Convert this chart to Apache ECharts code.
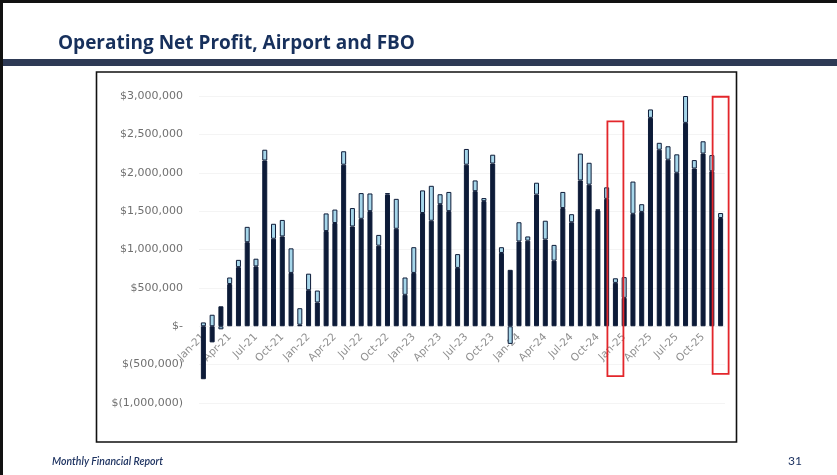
<!DOCTYPE html>
<html>
<head>
<meta charset="utf-8">
<script src="https://cdn.jsdelivr.net/npm/echarts@6/dist/echarts.min.js"></script>
<style>
html,body{margin:0;padding:0;background:#fff;}
#c{width:837px;height:475px;}
</style>
</head>
<body>
<div id="c"></div>
<script>
const months = ['Jan-21','Feb-21','Mar-21','Apr-21','May-21','Jun-21','Jul-21','Aug-21','Sep-21','Oct-21','Nov-21','Dec-21',
'Jan-22','Feb-22','Mar-22','Apr-22','May-22','Jun-22','Jul-22','Aug-22','Sep-22','Oct-22','Nov-22','Dec-22',
'Jan-23','Feb-23','Mar-23','Apr-23','May-23','Jun-23','Jul-23','Aug-23','Sep-23','Oct-23','Nov-23','Dec-23',
'Jan-24','Feb-24','Mar-24','Apr-24','May-24','Jun-24','Jul-24','Aug-24','Sep-24','Oct-24','Nov-24','Dec-24',
'Jan-25','Feb-25','Mar-25','Apr-25','May-25','Jun-25','Jul-25','Aug-25','Sep-25','Oct-25','Nov-25','Dec-25'];

const airport = [-690000,-210000,260000,550000,770000,1095000,780000,2160000,1140000,1170000,695000,20000,
470000,310000,1240000,1345000,2105000,1300000,1400000,1500000,1050000,1715000,1270000,410000,
695000,1475000,1375000,1590000,1500000,760000,2105000,1760000,1630000,2120000,955000,735000,
1105000,1115000,1715000,1130000,855000,1540000,1355000,1900000,1845000,1510000,1660000,565000,
370000,1465000,1490000,2715000,2300000,2170000,2000000,2650000,2055000,2250000,2020000,1410000];

const fbo = [50000,150000,-40000,85000,95000,200000,100000,140000,195000,215000,320000,215000,
215000,155000,230000,175000,175000,240000,335000,230000,140000,20000,390000,225000,
335000,295000,455000,130000,250000,180000,205000,140000,40000,115000,75000,-230000,
250000,55000,155000,245000,205000,210000,105000,350000,285000,10000,150000,60000,
270000,420000,100000,110000,90000,175000,240000,350000,110000,160000,210000,65000];

const yTicks = [-1000000,-500000,0,500000,1000000,1500000,2000000,2500000,3000000];

// highlighted months (red annotation boxes) and their value extents
const highlightMonths = ['Dec-24','Dec-25'];
const highlightLow = [-650000,-620000];
const highlightHigh = [2670000,2990000];

const NAVY = '#0d1b38';
const LIGHT = '#a6d6ea';

function money(v){
  if (v === 0) return '$-';
  const s = Math.abs(v).toLocaleString('en-US');
  return v < 0 ? '$(' + s + ')' : '$' + s;
}

const chart = echarts.init(document.getElementById('c'));
const option = {
  animation: false,
  backgroundColor: '#ffffff',
  title: {
    text: 'Operating Net Profit, Airport and FBO',
    left: 53, top: 29,
    textStyle: {fontFamily: 'Open Sans', fontWeight: 700, fontSize: 19, color: '#17305c'}
  },
  grid: {left: 199, right: 112, top: 96, bottom: 72, containLabel: false},
  xAxis: {
    type: 'category',
    data: months,
    axisLine: {onZero: false, show: false},
    axisTick: {show: false},
    axisLabel: {interval: 2, rotate: 45, margin: 9, color: '#8f8f8f', fontSize: 10.5, fontFamily: 'DejaVu Sans'},
    splitLine: {show: false}
  },
  yAxis: {
    type: 'value',
    min: yTicks[0], max: yTicks[yTicks.length-1], interval: 500000,
    axisLine: {show: false},
    axisTick: {show: false},
    axisLabel: {formatter: money, color: '#707070', fontSize: 11, fontFamily: 'DejaVu Sans', margin: 16},
    splitLine: {show: true, lineStyle: {color: '#f4f4f4', width: 1}}
  },
  series: [
    {name: 'Airport', type: 'bar', stack: 'net', barWidth: 5, data: airport,
     itemStyle: {color: NAVY, borderColor: NAVY, borderWidth: 1}},
    {name: 'FBO', type: 'bar', stack: 'net', barWidth: 5, data: fbo,
     itemStyle: {color: LIGHT, borderColor: NAVY, borderWidth: 1}}
  ],
  graphic: []
};
chart.setOption(option);

// move category labels up to the zero line (as in the source), using the value scale
const zeroY = chart.convertToPixel({yAxisIndex: 0}, 0);
const minY = chart.convertToPixel({yAxisIndex: 0}, yTicks[0]);

const g = [
  // slide outer edges
  {type: 'rect', shape: {x: 0, y: 0, width: 837, height: 3}, style: {fill: '#111'}, silent: true},
  {type: 'rect', shape: {x: 0, y: 0, width: 3, height: 475}, style: {fill: '#111'}, silent: true},
  // header band
  {type: 'rect', shape: {x: 3, y: 59, width: 834, height: 7}, style: {fill: '#2e3a55'}, silent: true},
  // chart frame
  {type: 'rect', shape: {x: 96.5, y: 72, width: 640, height: 370}, style: {fill: 'none', stroke: '#111', lineWidth: 1.6}, silent: true},
  // footer
  {type: 'text', left: 52, top: 456, style: {text: 'Monthly Financial Report', font: 'italic 600 10.5px Lato', fill: '#1f3462'}, silent: true},
  {type: 'text', left: 788, top: 455, style: {text: '31', font: '12px Lato', fill: '#1f3462'}, silent: true}
];
highlightMonths.forEach(function(m, i){
  const p1 = chart.convertToPixel({gridIndex: 0}, [m, highlightHigh[i]]);
  const p2 = chart.convertToPixel({gridIndex: 0}, [m, highlightLow[i]]);
  g.push({type: 'rect', shape: {x: p1[0] - 8, y: p1[1], width: 16, height: p2[1] - p1[1]},
    style: {fill: 'none', stroke: '#e3262b', lineWidth: 1.8}, silent: true, z: 100});
});
chart.setOption({xAxis: {offset: -(minY - zeroY)}, graphic: g});
</script>
</body>
</html>
